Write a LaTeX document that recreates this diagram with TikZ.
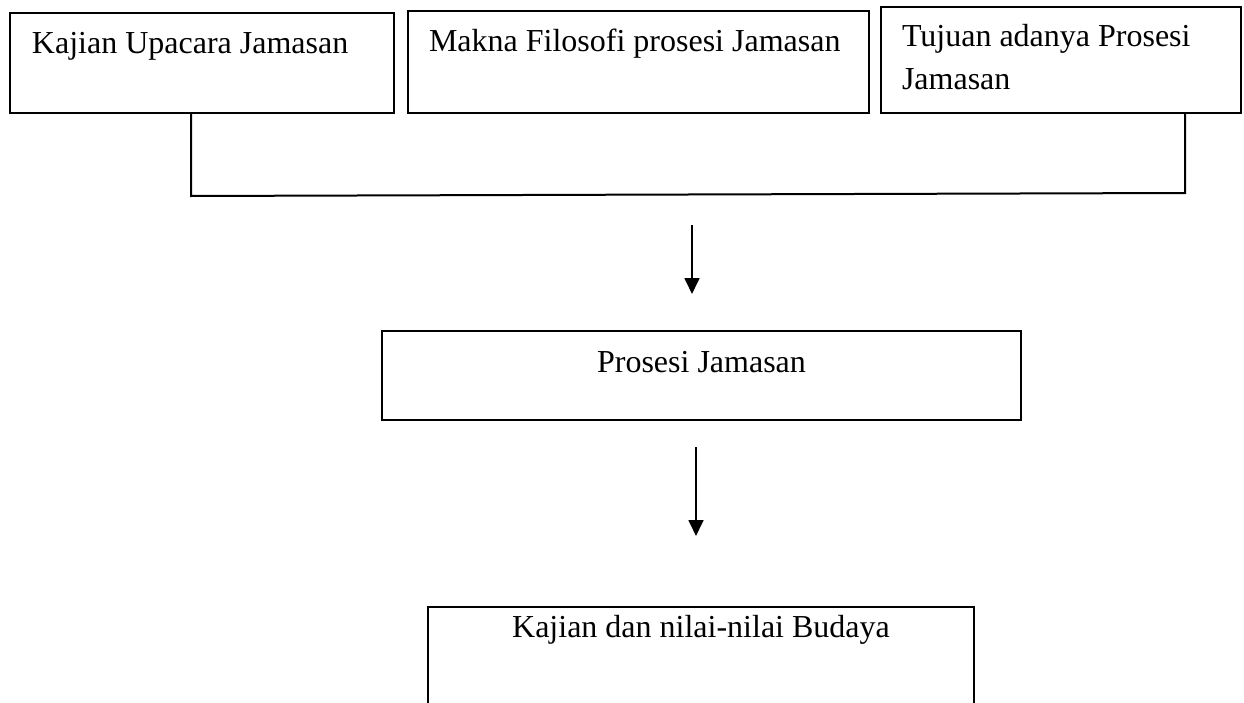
\documentclass[tikz,border=0pt]{standalone}
\usepackage{fontspec}
\setmainfont{Liberation Serif}
\usetikzlibrary{arrows.meta}
\begin{document}
\begin{tikzpicture}[x=0.375pt,y=-0.375pt,
  box/.style={draw=black,line width=0.75pt,inner sep=0pt,outer sep=0pt,rectangle},
  txt/.style={inner sep=0pt,outer sep=0pt,font=\fontsize{12}{16.25}\selectfont},
  conn/.style={draw=black,line width=0.75pt},
  arr/.style={draw=black,line width=0.75pt,-{Triangle[width=5.6pt,length=6pt]}}]
\useasboundingbox (0,0) rectangle (1244,703);
\clip (0,0) rectangle (1244,703);
% boxes
\node[box,minimum width={384*0.375pt},minimum height={100*0.375pt}] (b1) at (202,63) {};
\node[box,minimum width={461*0.375pt},minimum height={102*0.375pt}] (b2) at (638.5,62) {};
\node[box,minimum width={360*0.375pt},minimum height={106*0.375pt}] (b3) at (1061,60) {};
\node[box,minimum width={639*0.375pt},minimum height={89*0.375pt}] (b4) at (701.5,375.5) {};
\node[box,minimum width={546*0.375pt},minimum height={120*0.375pt}] (b5) at (701,667) {};
% texts
\node[txt,anchor=base west] (t1) at (32,53) {Kajian Upacara Jamasan};
\node[txt,anchor=base west] (t2) at (429,52) {Makna Filosofi prosesi Jamasan};
\node[txt,anchor=base west,align=left] (t3) at (902,90) {Tujuan adanya Prosesi\\Jamasan};
\node[txt,anchor=base] (t4) at (701.5,372) {Prosesi Jamasan};
\node[txt,anchor=base] (t5) at (701,637) {Kajian dan nilai-nilai Budaya};
% connector
\coordinate (c1) at (191,196);
\coordinate (c2) at (1185,193);
\draw[conn] (b1.south -| c1) -- (c1) -- (c2) -- (b3.south -| c2);
% arrows
\coordinate (a1s) at (692,225);
\coordinate (a1e) at (692,294);
\coordinate (a2s) at (696,447);
\coordinate (a2e) at (696,536);
\draw[arr] (a1s) -- (a1e);
\draw[arr] (a2s) -- (a2e);
\end{tikzpicture}
\end{document}
